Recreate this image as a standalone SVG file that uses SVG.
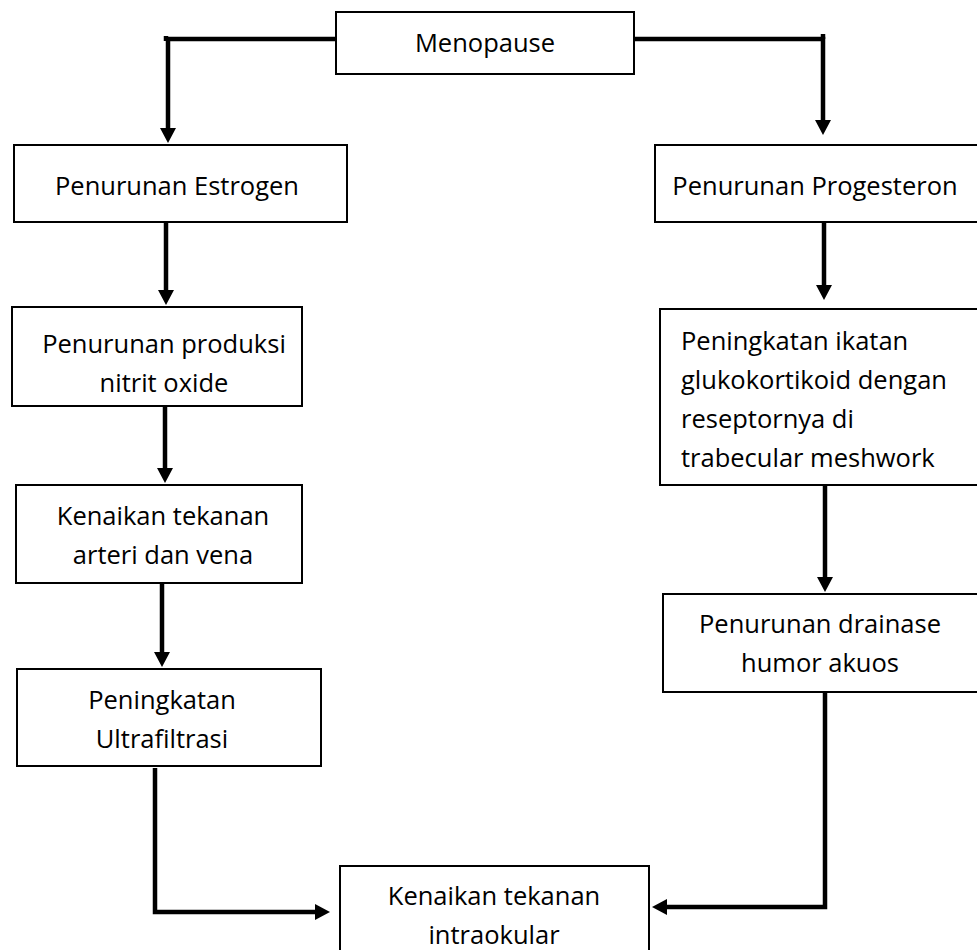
<svg xmlns="http://www.w3.org/2000/svg" width="977" height="950" viewBox="0 0 977 950">
<style>
.box{fill:#fff;stroke:#000;stroke-width:2}
.t{font-family:"Open Sans","Liberation Sans",sans-serif;font-size:25.5px;fill:#000}
.c{text-anchor:middle}
.con{fill:none;stroke:#000;stroke-width:4.5;stroke-linejoin:miter}
</style>
<defs>
<marker id="ah" markerUnits="userSpaceOnUse" markerWidth="16" markerHeight="16" refX="0" refY="8" orient="auto">
<path d="M0,0 L15,8 L0,16 z" fill="#000"/>
</marker>
</defs>
<g id="connectors">
<path class="con" d="M336,39 H168 V128" marker-end="url(#ah)"/>
<path class="con" d="M166,36 V41" />
<path class="con" d="M634,39 H823 V120" marker-end="url(#ah)"/>
<path class="con" d="M823,34 V39" />
<path class="con" d="M166,222 V290" marker-end="url(#ah)"/>
<path class="con" d="M165,406 V468" marker-end="url(#ah)"/>
<path class="con" d="M162,583 V652" marker-end="url(#ah)"/>
<path class="con" d="M155,768 V912 H315" marker-end="url(#ah)"/>
<path class="con" d="M824,222 V285" marker-end="url(#ah)"/>
<path class="con" d="M825,485 V577" marker-end="url(#ah)"/>
<path class="con" d="M825,692 V907 H667" marker-end="url(#ah)"/>
</g>
<g id="menopause">
<rect class="box" x="336" y="12" width="298" height="62"/>
<text class="t c" x="485" y="52">Menopause</text>
</g>
<g id="estrogen">
<rect class="box" x="14" y="145" width="333" height="77"/>
<text class="t c" x="177" y="195">Penurunan Estrogen</text>
</g>
<g id="nitrit">
<rect class="box" x="12" y="307" width="290" height="99"/>
<text class="t c" x="164" y="353">Penurunan produksi</text>
<text class="t c" x="164" y="392">nitrit oxide</text>
</g>
<g id="arteri">
<rect class="box" x="16" y="485" width="286" height="98"/>
<text class="t c" x="163" y="525">Kenaikan tekanan</text>
<text class="t c" x="163" y="564">arteri dan vena</text>
</g>
<g id="ultrafiltrasi">
<rect class="box" x="17" y="669" width="304" height="97"/>
<text class="t c" x="162" y="709">Peningkatan</text>
<text class="t c" x="162" y="748">Ultrafiltrasi</text>
</g>
<g id="intraokular">
<rect class="box" x="340" y="866" width="309" height="90"/>
<text class="t c" x="494" y="905">Kenaikan tekanan</text>
<text class="t c" x="494" y="944">intraokular</text>
</g>
<g id="progesteron">
<rect class="box" x="655" y="145" width="330" height="77"/>
<text class="t c" x="815" y="195">Penurunan Progesteron</text>
</g>
<g id="glukokortikoid">
<rect class="box" x="660" y="309" width="325" height="176"/>
<text class="t" x="681" y="350">Peningkatan ikatan</text>
<text class="t" x="681" y="389">glukokortikoid dengan</text>
<text class="t" x="681" y="428">reseptornya di</text>
<text class="t" x="681" y="467">trabecular meshwork</text>
</g>
<g id="drainase">
<rect class="box" x="663" y="594" width="322" height="98"/>
<text class="t c" x="820" y="633">Penurunan drainase</text>
<text class="t c" x="820" y="672">humor akuos</text>
</g>
</svg>
